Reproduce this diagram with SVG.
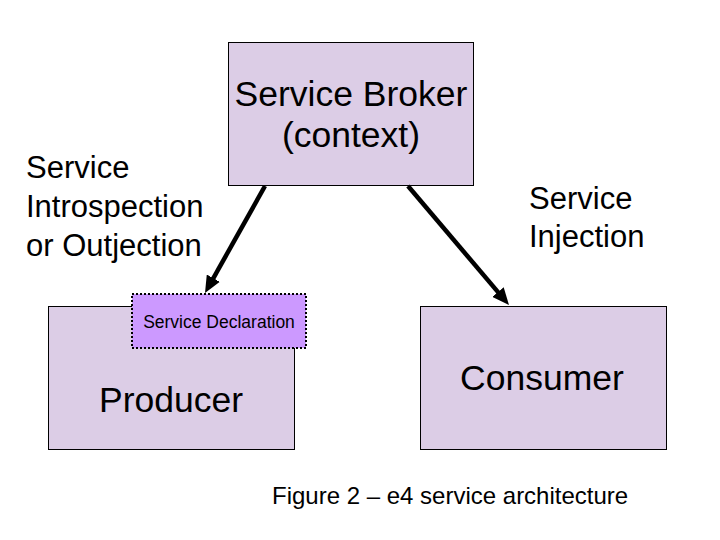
<svg xmlns="http://www.w3.org/2000/svg" width="720" height="540" viewBox="0 0 720 540">
  <style>
    .box { fill: #DCCDE6; stroke: #000; stroke-width: 1; }
    .decl { fill: #CC99FF; stroke: #000; stroke-width: 2; stroke-dasharray: 2 2; }
    .t { font-family: "Liberation Sans", Arial, sans-serif; fill: #000; }
    .big { font-size: 35.5px; text-anchor: middle; }
    .lbl { font-size: 31px; }
    .small { font-size: 17.5px; text-anchor: middle; }
    .cap { font-size: 24px; }
    .conn { stroke: #000; stroke-width: 4.5; fill: none; }
  </style>
  <defs>
    <marker id="ah" viewBox="0 0 17 15" refX="7" refY="7.5" markerWidth="17" markerHeight="15" markerUnits="userSpaceOnUse" orient="auto">
      <path d="M0,0 L17,7.5 L0,15 Z" fill="#000"/>
    </marker>
  </defs>
  <rect width="720" height="540" fill="#fff"/>

  <g id="broker">
    <rect class="box" x="228.5" y="42.5" width="245" height="143"/>
    <text class="t big" x="351" y="106">Service Broker</text>
    <text class="t big" x="351" y="147">(context)</text>
  </g>

  <g id="producer">
    <rect class="box" x="48.5" y="306.5" width="246" height="143"/>
    <text class="t big" x="171" y="412">Producer</text>
  </g>

  <g id="service-declaration">
    <rect class="decl" x="132" y="294" width="174" height="54"/>
    <text class="t small" x="219" y="328">Service Declaration</text>
  </g>

  <g id="consumer">
    <rect class="box" x="420.5" y="306.5" width="246" height="143"/>
    <text class="t big" x="542" y="390">Consumer</text>
  </g>

  <g id="label-introspection">
    <text class="t lbl" x="26" y="178">Service</text>
    <text class="t lbl" x="26" y="217">Introspection</text>
    <text class="t lbl" x="26" y="256">or Outjection</text>
  </g>

  <g id="label-injection">
    <text class="t lbl" x="529" y="209">Service</text>
    <text class="t lbl" x="529" y="247">Injection</text>
  </g>

  <g id="connectors">
    <line class="conn" x1="265" y1="186" x2="209.9" y2="284.3" marker-end="url(#ah)"/>
    <line class="conn" x1="408" y1="186" x2="502.5" y2="297.4" marker-end="url(#ah)"/>
  </g>

  <g id="caption">
    <text class="t cap" x="272" y="504">Figure 2 – e4 service architecture</text>
  </g>
</svg>
